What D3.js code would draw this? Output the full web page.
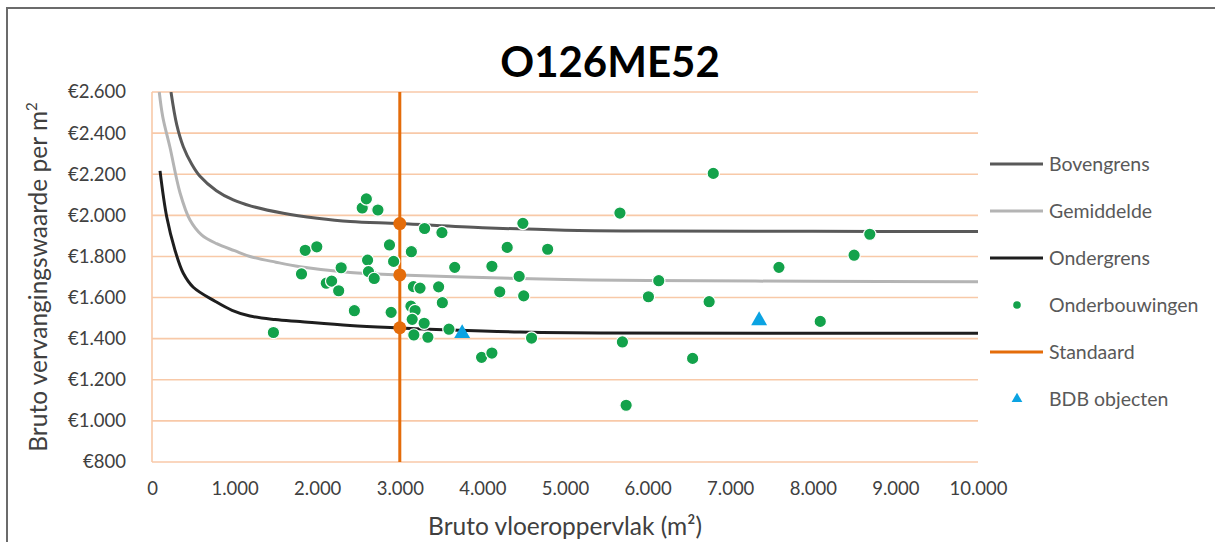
<!DOCTYPE html>
<html>
<head>
<meta charset="utf-8">
<script src="https://cdnjs.cloudflare.com/ajax/libs/d3/7.8.5/d3.min.js"></script>
<style>
  html, body { margin: 0; padding: 0; background: #fff; }
  svg { display: block; font-family: Lato, "Open Sans", sans-serif; }
</style>
</head>
<body>
<svg id="chart" width="1215" height="542"></svg>
<script>
// ---------- DATA ----------
const title = "O126ME52";
const xTicks = [0, 1000, 2000, 3000, 4000, 5000, 6000, 7000, 8000, 9000, 10000];
const yTicks = [800, 1000, 1200, 1400, 1600, 1800, 2000, 2200, 2400, 2600];

const bovenX = [230, 300, 379, 480, 581, 780, 984, 1200, 1590, 2000, 2400, 3000, 4000, 5000, 6000, 8000, 10000];
const bovenY = [2600, 2440, 2334, 2250, 2190, 2120, 2075, 2045, 2010, 1986, 1970, 1960, 1940, 1928, 1924, 1922, 1921];

const gemX = [88, 130, 218, 339, 460, 600, 783, 1000, 1186, 1500, 1792, 2400, 3000, 4000, 5000, 6000, 8000, 10000];
const gemY = [2600, 2480, 2330, 2110, 1977, 1905, 1862, 1828, 1800, 1772, 1750, 1722, 1710, 1697, 1688, 1683, 1679, 1677];

const onderX = [97, 178, 278, 379, 500, 763, 969, 1186, 1489, 1792, 2397, 3000, 3608, 4455, 5424, 10000];
const onderY = [2216, 1993, 1831, 1718, 1650, 1582, 1538, 1510, 1493, 1483, 1464, 1452, 1442, 1432, 1428, 1426];

const onderbouwX = [1470, 1810, 1855, 1995, 2110, 2175, 2260, 2290, 2450, 2545, 2595, 2735, 2610, 2640, 2621, 2690, 2875, 2925, 2895,
  3140, 3300, 3510, 3165, 3245, 3470, 3515, 3135, 3185, 3150, 3295, 3170, 3340, 3595, 3665, 3990, 4115, 4115, 4210, 4300, 4445,
  4490, 4500, 4595, 4790, 5665, 5695, 5740, 6010, 6135, 6545, 6745, 6795, 7590, 8090, 8500, 8690];
const onderbouwY = [1430, 1715, 1830, 1847, 1670, 1680, 1633, 1745, 1536, 2036, 2080, 2026, 1782, 1719, 1726, 1693, 1856, 1776, 1528,
  1823, 1936, 1916, 1653, 1646, 1652, 1575, 1558, 1537, 1494, 1475, 1418, 1407, 1446, 1747, 1309, 1330, 1752, 1628, 1844, 1703,
  1961, 1608, 1403, 1835, 2011, 1384, 1076, 1604, 1682, 1304, 1580, 2204, 1747, 1484, 1806, 1908];

const standaardX = 3000;
const standaardY = [1960, 1710, 1453];

const bdbX = [3755, 7350];
const bdbY = [1430, 1493];

const legendNames = ["Bovengrens", "Gemiddelde", "Ondergrens", "Onderbouwingen", "Standaard", "BDB objecten"];
const yAxisTitle = "Bruto vervangingswaarde per m";
const xAxisTitle = "Bruto vloeroppervlak (m²)";

// ---------- STYLES ----------
const C = {
  boven: "#595959", gem: "#b4b4b4", onder: "#1e1e1e",
  green: "#13a24b", orange: "#e46c0a", blue: "#0ba3e2",
  grid: "#f8c9a8", text: "#404040", legendText: "#595959"
};

const svg = d3.select("#chart");
const W = 1215, H = 542;
const m = { left: 152, right: W - 978, top: 92, bottom: H - 462 };

// outer border
svg.append("rect").attr("x", 7).attr("y", 8).attr("width", W + 10).attr("height", H + 10)
  .attr("fill", "#fff").attr("stroke", "#6b6b6b").attr("stroke-width", 2);

const x = d3.scaleLinear().domain([0, 10000]).range([m.left, W - m.right]);
const y = d3.scaleLinear().domain([800, 2600]).range([H - m.bottom, m.top]);

const loc = d3.formatLocale({ decimal: ",", thousands: ".", grouping: [3], currency: ["€", ""] });
const fx = loc.format(",.0f");
const fy = loc.format("$,.0f");

// gridlines
svg.append("g").selectAll("line").data(yTicks).join("line")
  .attr("x1", x(0)).attr("x2", x(10000))
  .attr("y1", d => y(d)).attr("y2", d => y(d))
  .attr("stroke", C.grid).attr("stroke-width", 1.6);
svg.append("line").attr("x1", x(0)).attr("x2", x(0)).attr("y1", y(800)).attr("y2", y(2600))
  .attr("stroke", C.grid).attr("stroke-width", 1.6);

// axes
const yAxis = svg.append("g").attr("transform", `translate(${x(0)},0)`)
  .call(d3.axisLeft(y).tickValues(yTicks).tickFormat(fy).tickSize(0).tickPadding(26));
yAxis.select(".domain").remove();
yAxis.selectAll("text").attr("font-size", 18.5).attr("fill", C.text).attr("font-family", "Lato, sans-serif");

const xAxis = svg.append("g").attr("transform", `translate(0,${y(800)})`)
  .call(d3.axisBottom(x).tickValues(xTicks).tickFormat(fx).tickSize(0).tickPadding(20));
xAxis.select(".domain").remove();
xAxis.selectAll("text").attr("font-size", 18.5).attr("fill", C.text).attr("font-family", "Lato, sans-serif");

// clip
svg.append("clipPath").attr("id", "clip").append("rect")
  .attr("x", x(0)).attr("y", y(2600)).attr("width", x(10000) - x(0)).attr("height", y(800) - y(2600));

const plot = svg.append("g").attr("clip-path", "url(#clip)");
const line = d3.line().x(d => x(d[0])).y(d => y(d[1])).curve(d3.curveCatmullRom.alpha(0.5));

plot.append("path").datum(d3.zip(bovenX, bovenY)).attr("d", line)
  .attr("fill", "none").attr("stroke", C.boven).attr("stroke-width", 3);
plot.append("path").datum(d3.zip(gemX, gemY)).attr("d", line)
  .attr("fill", "none").attr("stroke", C.gem).attr("stroke-width", 3);
plot.append("path").datum(d3.zip(onderX, onderY)).attr("d", line)
  .attr("fill", "none").attr("stroke", C.onder).attr("stroke-width", 3);

// standaard line
plot.append("line").attr("x1", x(standaardX)).attr("x2", x(standaardX))
  .attr("y1", y(2600)).attr("y2", y(800)).attr("stroke", C.orange).attr("stroke-width", 3);

// scatter
plot.append("g").selectAll("circle").data(d3.zip(onderbouwX, onderbouwY)).join("circle")
  .attr("cx", d => x(d[0])).attr("cy", d => y(d[1])).attr("r", 6.2)
  .attr("fill", C.green).attr("stroke", "#fff").attr("stroke-width", 1.2);

// standaard dots
plot.append("g").selectAll("circle").data(standaardY).join("circle")
  .attr("cx", x(standaardX)).attr("cy", d => y(d)).attr("r", 6.5)
  .attr("fill", C.orange);

// BDB triangles
const tri = d3.symbol().type(d3.symbolTriangle).size(110);
plot.append("g").selectAll("path").data(d3.zip(bdbX, bdbY)).join("path")
  .attr("d", tri).attr("transform", d => `translate(${x(d[0])},${y(d[1]) + 1})`)
  .attr("fill", C.blue);

// title
svg.append("text").attr("x", 610).attr("y", 77).attr("text-anchor", "middle")
  .attr("font-size", 42).attr("font-weight", "bold").attr("fill", "#000")
  .attr("font-family", "Lato, sans-serif").text(title);

// axis titles
const yt = svg.append("text").attr("transform", `translate(47,${(y(800) + y(2600)) / 2}) rotate(-90)`)
  .attr("text-anchor", "middle").attr("font-size", 24.5).attr("fill", C.text);
yt.append("tspan").text(yAxisTitle);
yt.append("tspan").attr("font-size", 15).attr("dy", -10).text("2");

svg.append("text").attr("x", (x(0) + x(10000)) / 2).attr("y", 535).attr("text-anchor", "middle")
  .attr("font-size", 24.5).attr("fill", C.text).text(xAxisTitle);

// legend
const lg = svg.append("g");
const lgY0 = 164, lgStep = 47;
const kinds = ["line", "line", "line", "dot", "line", "tri"];
const lgColors = [C.boven, C.gem, C.onder, C.green, C.orange, C.blue];
legendNames.forEach((name, i) => {
  const yy = lgY0 + i * lgStep;
  if (kinds[i] === "line") {
    lg.append("line").attr("x1", 990).attr("x2", 1043).attr("y1", yy).attr("y2", yy)
      .attr("stroke", lgColors[i]).attr("stroke-width", 3);
  } else if (kinds[i] === "dot") {
    lg.append("circle").attr("cx", 1017).attr("cy", yy).attr("r", 3.8).attr("fill", lgColors[i]);
  } else {
    lg.append("path").attr("d", d3.symbol().type(d3.symbolTriangle).size(50))
      .attr("transform", `translate(1017,${yy})`).attr("fill", lgColors[i]);
  }
  lg.append("text").attr("x", 1049).attr("y", yy).attr("dy", "0.35em")
    .attr("font-size", 19.5).attr("fill", C.legendText).text(name);
});
</script>
</body>
</html>
